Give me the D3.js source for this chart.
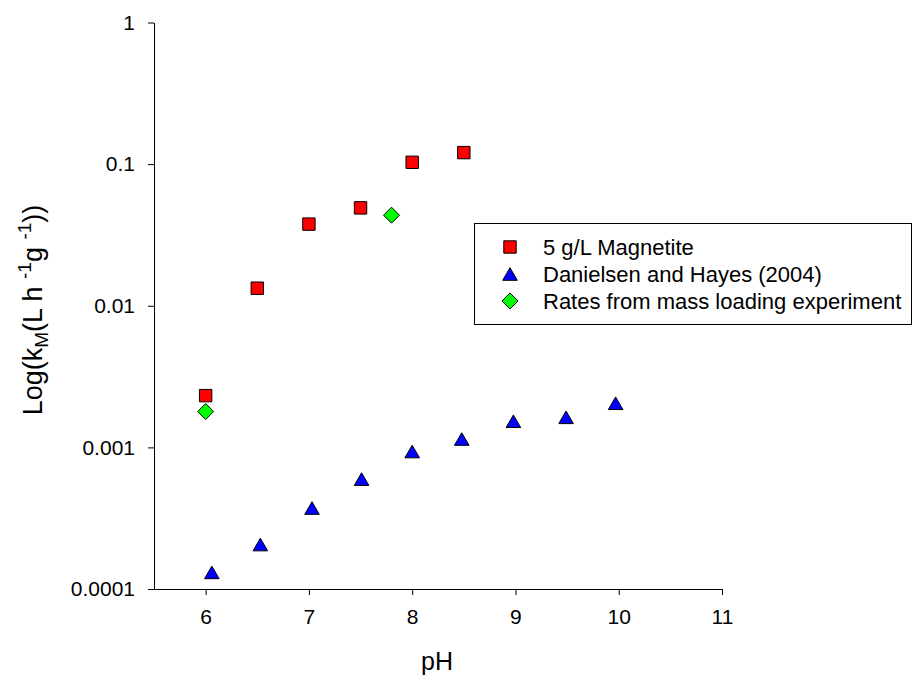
<!DOCTYPE html>
<html>
<head>
<meta charset="utf-8">
<script src="https://cdn.jsdelivr.net/npm/d3@7"></script>
<style>
  body { margin: 0; background: #fff; }
  svg { font-family: Arial, "Liberation Sans", sans-serif; }
</style>
</head>
<body>
<div class="svg-container"></div>
<script>
//data
const magnetitePH = [6, 6.5, 7, 7.5, 8, 8.5];
const magnetiteK = [0.00232, 0.0133, 0.0377, 0.0491, 0.103, 0.1206];

const danielsenPH = [6.06, 6.53, 7.03, 7.51, 8.0, 8.48, 8.98, 9.49, 9.97];
const danielsenK = [0.000131, 0.000206, 0.000373, 0.000597, 0.000935, 0.001145, 0.00153, 0.00163, 0.00205];

const massLoadPH = [6, 7.8];
const massLoadK = [0.00179, 0.0436];

const xTicks = [6, 7, 8, 9, 10, 11];
const yTicks = [0.0001, 0.001, 0.01, 0.1, 1];
const yTickLabels = ['0.0001', '0.001', '0.01', '0.1', '1'];

const legendLabels = ['5 g/L Magnetite', 'Danielsen and Hayes (2004)', 'Rates from mass loading experiment'];

//dimensions
const width = 914;
const height = 679;
const plot = { left: 154, right: 722, top: 22.5, bottom: 589 };

const svg = d3.select('.svg-container')
    .append('svg')
    .attr('width', width)
    .attr('height', height);

//scales
const xScale = d3.scaleLinear()
    .domain([5.5, 11])
    .range([plot.left, plot.right]);

const yScale = d3.scaleLog()
    .domain([0.0001, 1])
    .range([plot.bottom, plot.top]);

//axes
const xAxis = d3.axisBottom(xScale)
    .tickValues(xTicks)
    .tickFormat(d3.format('d'))
    .tickSizeInner(6)
    .tickSizeOuter(0)
    .tickPadding(14);

const yAxis = d3.axisLeft(yScale)
    .tickValues(yTicks)
    .tickFormat((d, i) => yTickLabels[i])
    .tickSizeInner(6)
    .tickSizeOuter(0)
    .tickPadding(13);

svg.append('g')
    .attr('class', 'x-axis')
    .attr('transform', `translate(0, ${plot.bottom})`)
    .call(xAxis);

svg.append('g')
    .attr('class', 'y-axis')
    .attr('transform', `translate(${plot.left}, 0)`)
    .call(yAxis);

svg.selectAll('.x-axis text, .y-axis text')
    .attr('font-family', 'Arial, "Liberation Sans", sans-serif')
    .attr('font-size', 21)
    .attr('fill', '#000');

svg.selectAll('.x-axis path, .x-axis line, .y-axis path, .y-axis line')
    .attr('stroke', '#000')
    .attr('stroke-width', 1);

//marker shapes, centred on their bounding box
const squareShape = {
    draw(ctx, s) {
        const h = 6.2;
        ctx.moveTo(-h, -h); ctx.lineTo(h, -h); ctx.lineTo(h, h); ctx.lineTo(-h, h); ctx.closePath();
    }
};
const triangleShape = {
    draw(ctx, s) {
        const w = 7.3, h = 6.3;
        ctx.moveTo(0, -h); ctx.lineTo(w, h); ctx.lineTo(-w, h); ctx.closePath();
    }
};
const diamondShape = {
    draw(ctx, s) {
        const r = 8;
        ctx.moveTo(0, -r); ctx.lineTo(r, 0); ctx.lineTo(0, r); ctx.lineTo(-r, 0); ctx.closePath();
    }
};

const series = [
    { name: legendLabels[0], ph: magnetitePH, k: magnetiteK, shape: squareShape, fill: '#ff0000' },
    { name: legendLabels[1], ph: danielsenPH, k: danielsenK, shape: triangleShape, fill: '#0000ff' },
    { name: legendLabels[2], ph: massLoadPH, k: massLoadK, shape: diamondShape, fill: '#00ff00' }
];

series.forEach((s, si) => {
    svg.selectAll(`.pts-${si}`)
        .data(s.ph.map((p, i) => ({ ph: p, k: s.k[i] })))
        .join('path')
        .attr('class', `pts-${si}`)
        .attr('d', d3.symbol().type(s.shape))
        .attr('transform', d => `translate(${xScale(d.ph)}, ${yScale(d.k)})`)
        .attr('fill', s.fill)
        .attr('stroke', '#000')
        .attr('stroke-width', 1);
});

//legend
const legend = svg.append('g').attr('class', 'legend');

legend.append('rect')
    .attr('x', 474.5)
    .attr('y', 223.5)
    .attr('width', 437)
    .attr('height', 101)
    .attr('fill', '#fff')
    .attr('stroke', '#000')
    .attr('stroke-width', 1);

const rows = legend.selectAll('.legend-row')
    .data(series)
    .join('g')
    .attr('class', 'legend-row')
    .attr('transform', (d, i) => `translate(510, ${247 + i * 27})`);

rows.append('path')
    .attr('d', d => d3.symbol().type(d.shape)())
    .attr('fill', d => d.fill)
    .attr('stroke', '#000')
    .attr('stroke-width', 1);

rows.append('text')
    .attr('x', 33)
    .attr('y', 0)
    .attr('dy', '0.35em')
    .attr('font-size', 22)
    .attr('fill', '#000')
    .text(d => d.name);

//axis titles
svg.append('text')
    .attr('x', 437)
    .attr('y', 670)
    .attr('text-anchor', 'middle')
    .attr('font-size', 25)
    .text('pH');

const yTitle = svg.append('text')
    .attr('transform', 'translate(42, 310) rotate(-90)')
    .attr('text-anchor', 'middle')
    .attr('font-size', 27);

yTitle.append('tspan').text('Log(k');
yTitle.append('tspan').attr('font-size', 19).attr('dy', 6).text('M');
yTitle.append('tspan').attr('dy', -6).text('(L h ');
yTitle.append('tspan').attr('font-size', 19).attr('dy', -11).text('-1');
yTitle.append('tspan').attr('dy', 11).text('g ');
yTitle.append('tspan').attr('font-size', 19).attr('dy', -11).text('-1');
yTitle.append('tspan').attr('dy', 11).text('))');
</script>
</body>
</html>
